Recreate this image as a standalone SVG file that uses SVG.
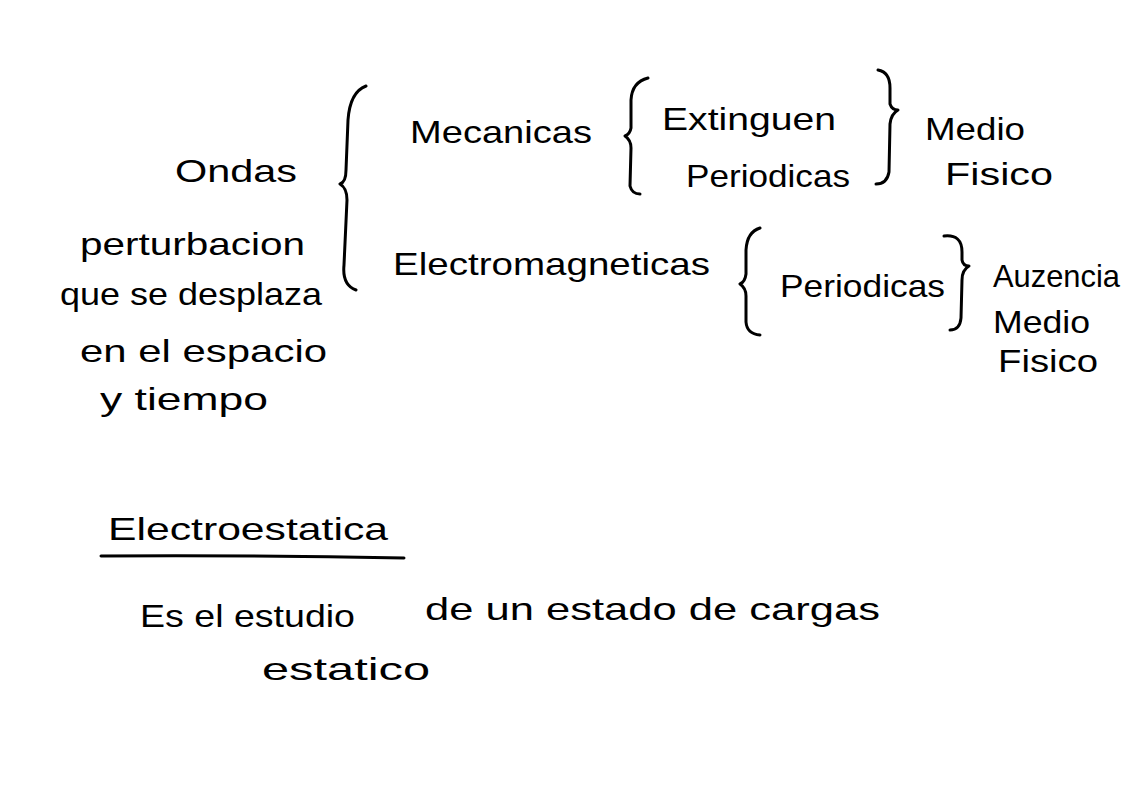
<svg xmlns="http://www.w3.org/2000/svg" width="1123" height="793" viewBox="0 0 1123 793">
<style>
text{font-family:"Liberation Sans","DejaVu Sans",sans-serif;fill:#000;font-size:32px}
.b{fill:none;stroke:#000;stroke-width:3;stroke-linecap:round;stroke-linejoin:round}
</style>
<rect width="1123" height="793" fill="#fff"/>
<g id="ondas">
<text x="175" y="182" textLength="122" lengthAdjust="spacingAndGlyphs" font-size="36">Ondas</text>
<text x="80" y="255" textLength="225" lengthAdjust="spacingAndGlyphs">perturbacion</text>
<text x="60" y="305" textLength="262" lengthAdjust="spacingAndGlyphs">que se desplaza</text>
<text x="80" y="362" textLength="247" lengthAdjust="spacingAndGlyphs">en el espacio</text>
<text x="100" y="410" textLength="168" lengthAdjust="spacingAndGlyphs">y tiempo</text>
</g>
<g id="mecanicas">
<text x="410" y="143" textLength="182" lengthAdjust="spacingAndGlyphs">Mecanicas</text>
</g>
<g id="extinguen"><text x="662" y="130" textLength="174" lengthAdjust="spacingAndGlyphs">Extinguen</text></g>
<g id="periodicas1"><text x="686" y="187" textLength="164" lengthAdjust="spacingAndGlyphs">Periodicas</text></g>
<g id="medio1">
<text x="925" y="140" textLength="100" lengthAdjust="spacingAndGlyphs">Medio</text>
<text x="945" y="185" textLength="108" lengthAdjust="spacingAndGlyphs">Fisico</text>
</g>
<g id="electromagneticas"><text x="393" y="275" textLength="317" lengthAdjust="spacingAndGlyphs" font-size="34">Electromagneticas</text></g>
<g id="periodicas2"><text x="780" y="297" textLength="165" lengthAdjust="spacingAndGlyphs">Periodicas</text></g>
<g id="ausencia">
<text x="993" y="287" textLength="127" lengthAdjust="spacingAndGlyphs" font-size="28">Auzencia</text>
<text x="993" y="333" textLength="97" lengthAdjust="spacingAndGlyphs" font-size="28">Medio</text>
<text x="998" y="372" textLength="100" lengthAdjust="spacingAndGlyphs">Fisico</text>
</g>
<g id="electroestatica">
<text x="108" y="540" textLength="280" lengthAdjust="spacingAndGlyphs" font-size="36">Electroestatica</text>
<path class="b" d="M101 556 Q250 555 404 558"/>
</g>
<g id="definicion">
<text x="140" y="627" textLength="215" lengthAdjust="spacingAndGlyphs">Es el estudio</text>
<text x="425" y="620" textLength="455" lengthAdjust="spacingAndGlyphs">de un estado de cargas</text>
<text x="262" y="680" textLength="168" lengthAdjust="spacingAndGlyphs">estatico</text>
</g>
<g id="braces">
<path class="b" d="M366 86 Q350 92 348 120 L346 170 Q346 182 340 184 Q347 188 347 200 L344 265 Q342 285 356 290"/>
<path class="b" d="M648 78 Q632 82 631 100 L631 128 Q630 134 625 136 Q631 140 631 148 L630 186 Q632 194 640 194"/>
<path class="b" d="M878 70 Q890 72 890 88 L890 104 Q892 110 898 110 Q891 114 890 124 L889 172 Q887 184 876 184"/>
<path class="b" d="M760 228 Q747 232 746 250 L746 274 Q745 282 740 284 Q746 288 746 296 L746 322 Q747 334 760 335"/>
<path class="b" d="M944 236 Q962 234 962 252 L962 260 Q963 266 969 266 Q962 270 962 280 L961 318 Q960 330 950 330"/>
</g>
</svg>
